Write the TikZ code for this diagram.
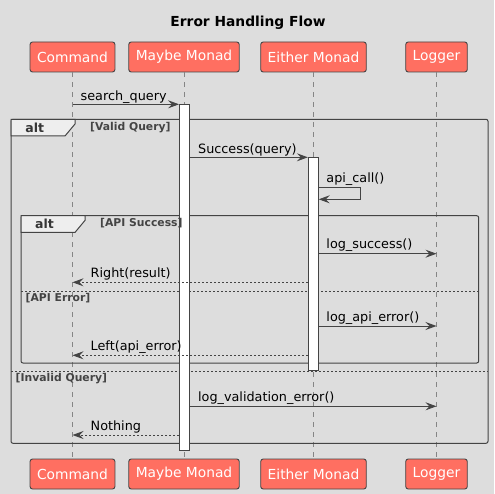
\documentclass[tikz,border=0pt]{standalone}
\usepackage{fontspec}
\setmainfont{DejaVu Sans}
\usepackage{tikz}
\usetikzlibrary{arrows.meta,positioning,calc}
\definecolor{Canvas}{HTML}{DDDDDD}
\definecolor{Ink}{HTML}{444444}
\definecolor{Actor}{HTML}{FF6F61}
\definecolor{Lifeline}{HTML}{858585}
\definecolor{TabFill}{HTML}{EEEEEE}

\begin{document}
\begin{tikzpicture}[x=1pt,y=-1pt,
  actor/.style={draw=Ink,fill=Actor,rounded corners=2.5pt,minimum height=30pt,inner xsep=7pt,text=white,line width=0.9pt,font=\fontsize{13.8}{16}\selectfont},
  life/.style={draw=Lifeline,dash pattern=on 5pt off 5pt,line width=0.8pt},
  act/.style={draw=Ink,fill=white,minimum width=10pt,inner sep=0pt,line width=0.9pt},
  msg/.style={-{Stealth[length=11pt,width=8pt,inset=4pt]},draw=Ink,line width=0.9pt},
  reply/.style={msg,dash pattern=on 2pt off 2pt},
  msglabel/.style={anchor=base west,inner sep=0pt,font=\fontsize{12.8}{15}\selectfont},
  frame/.style={draw=Ink,rounded corners=2pt,line width=1pt},
  tab/.style={draw=Ink,fill=TabFill,line width=1pt},
  tablabel/.style={inner sep=0pt,text=Ink!80!black,font=\bfseries\fontsize{12.5}{14}\selectfont},
  guard/.style={anchor=west,inner sep=0pt,text=Ink,font=\bfseries\fontsize{10.8}{13}\selectfont},
  sep/.style={draw=Ink,dash pattern=on 2pt off 2pt,line width=0.7pt}
]
  \fill[Canvas] (0,0) rectangle (494,494);
  \node[font=\bfseries\fontsize{13.8}{16}\selectfont] (title) at (248,23) {Error Handling Flow};

  % participants, top and bottom
  \node[actor] (cmdT) at (72.5,57) {Command};
  \node[actor] (maybeT) at (184,57) {Maybe Monad};
  \node[actor] (eitherT) at (313.5,57) {Either Monad};
  \node[actor] (logT) at (436.5,57) {Logger};
  \node[actor] (cmdB) at (72.5,474) {Command};
  \node[actor] (maybeB) at (184,474) {Maybe Monad};
  \node[actor] (eitherB) at (313.5,474) {Either Monad};
  \node[actor] (logB) at (436.5,474) {Logger};
  \foreach \p in {cmd,maybe,either,log}
    \draw[life] (\p T.south) -- (\p B.north);

  % alt frames
  \draw[frame] (11,119.3) rectangle (488,443.3);
  \draw[tab] (11,119.3) -- (75,119.3) -- (75,124) -- (65,136) -- (11,136) -- cycle;
  \node[tablabel] (alt1) at (34.7,128) {alt};
  \draw[sep] (11,371) -- (488,371);

  \draw[frame] (21,215.7) rectangle (478.7,363);
  \draw[tab] (21,215.7) -- (85,215.7) -- (85,220.4) -- (75,232.4) -- (21,232.4) -- cycle;
  \node[tablabel] (alt2) at (44.5,224) {alt};
  \draw[sep] (21,291.7) -- (478.7,291.7);

  % activations
  \node[act,minimum height=346pt] (maybeAct) at (184.5,277.4) {};
  \node[act,minimum height=213pt] (eitherAct) at (313.3,263.8) {};

  % guards
  \node[guard] (g1) at (90,128) {[Valid Query]};
  \node[guard] (g2) at (100,223.5) {[API Success]};
  \node[guard] (g3) at (25.5,298.5) {[API Error]};
  \node[guard] (g4) at (15.5,378.5) {[Invalid Query]};

  % messages
  \coordinate (m1) at (cmdT.south |- 0,104.3);
  \draw[msg] (m1) -- (maybeAct.west |- m1);
  \node[msglabel] (l1) at ($(m1)+(8,-4)$) {search\_query};

  \coordinate (m2) at (maybeAct.east |- 0,157.3);
  \draw[msg] (m2) -- (eitherAct.west |- m2);
  \node[msglabel] (l2) at ($(m2)+(8,-4)$) {Success(query)};

  \coordinate (m3) at (eitherAct.east |- 0,187.7);
  \coordinate (m3b) at (eitherAct.east |- 0,199.3);
  \draw[msg] (m3) -- ++(42,0) |- (m3b);
  \node[msglabel] (l3) at ($(m3)+(7.5,-5)$) {api\_call()};

  \coordinate (m4) at (eitherAct.east |- 0,253.7);
  \draw[msg] (m4) -- (logT.south |- m4);
  \node[msglabel] (l4) at ($(m4)+(7.5,-5)$) {log\_success()};

  \coordinate (m5) at (eitherAct.west |- 0,282.3);
  \draw[reply] (m5) -- (cmdT.south |- m5);
  \node[msglabel] (l5) at ($(cmdT.south |- m5)+(18,-5)$) {Right(result)};

  \coordinate (m6) at (eitherAct.east |- 0,326);
  \draw[msg] (m6) -- (logT.south |- m6);
  \node[msglabel] (l6) at ($(m6)+(7.5,-5)$) {log\_api\_error()};

  \coordinate (m7) at (eitherAct.west |- 0,355.3);
  \draw[reply] (m7) -- (cmdT.south |- m7);
  \node[msglabel] (l7) at ($(cmdT.south |- m7)+(18,-5)$) {Left(api\_error)};

  \coordinate (m8) at (maybeAct.east |- 0,406.3);
  \draw[msg] (m8) -- (logT.south |- m8);
  \node[msglabel] (l8) at ($(m8)+(8,-5)$) {log\_validation\_error()};

  \coordinate (m9) at (maybeAct.west |- 0,435);
  \draw[reply] (m9) -- (cmdT.south |- m9);
  \node[msglabel] (l9) at ($(cmdT.south |- m9)+(18,-5)$) {Nothing};
\end{tikzpicture}
\end{document}
